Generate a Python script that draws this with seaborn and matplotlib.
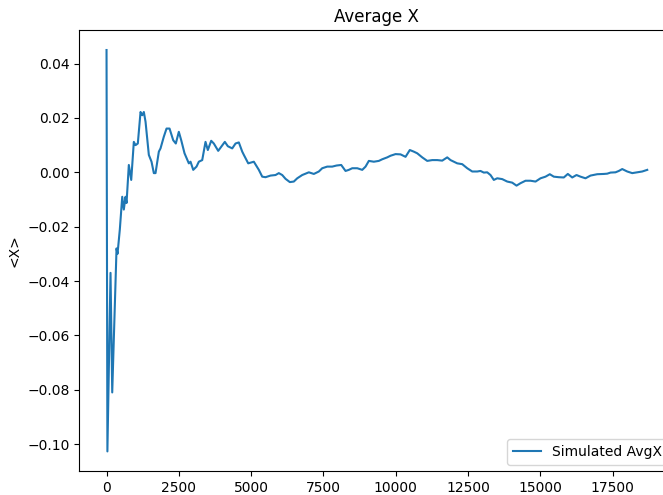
import matplotlib
matplotlib.use("Agg")
import matplotlib.pyplot as plt
import seaborn as sns
import pandas as pd

steps = [0, 30, 138, 197, 346, 380, 460, 543, 598, 657, 692, 771, 854, 944, 1003,
         1082, 1176, 1235, 1290, 1349, 1463, 1556, 1636, 1694, 1809, 1867, 1981,
         2075, 2179, 2306, 2396, 2500, 2583, 2697, 2846, 2905, 2998, 3112, 3192,
         3309, 3423, 3503, 3620, 3710, 3862, 3966, 4091, 4195, 4347, 4461, 4575,
         4693, 4749, 4900, 5094, 5267, 5384, 5498, 5671, 5844, 5958, 6076, 6190,
         6339, 6477, 6595, 6767, 6996, 7169, 7342, 7459, 7632, 7805, 7954, 8116,
         8265, 8379, 8497, 8670, 8843, 8957, 9071, 9244, 9417, 9534, 9707, 9821,
         9994, 10167, 10340, 10488, 10627, 10744, 10917, 11090, 11263, 11436,
         11609, 11782, 11895, 12127, 12300, 12473, 12646, 12819, 12932, 13047,
         13164, 13278, 13393, 13510, 13683, 13856, 14029, 14178, 14316, 14489,
         14662, 14835, 15008, 15180, 15329, 15467, 15640, 15813, 15952, 16104,
         16252, 16391, 16563, 16736, 16968, 17196, 17314, 17428, 17601, 17715,
         17833, 18006, 18179, 18352, 18525, 18698]

avg_x = [0.045, -0.1027, -0.037, -0.081, -0.028, -0.030, -0.021, -0.009, -0.0137,
         -0.009, -0.0113, 0.0027, -0.0028, 0.0112, 0.0100, 0.0106, 0.0222, 0.0210,
         0.0222, 0.0186, 0.0064, 0.0039, -0.0003, -0.0003, 0.0076, 0.0088, 0.0131,
         0.0161, 0.0161, 0.0118, 0.0106, 0.0149, 0.0118, 0.0070, 0.0033, 0.0039,
         0.0009, 0.0021, 0.0039, 0.0045, 0.0112, 0.0082, 0.0116, 0.0106, 0.0079,
         0.0094, 0.0112, 0.0096, 0.0088, 0.0106, 0.0110, 0.0076, 0.0064, 0.0033,
         0.0039, 0.0009, -0.0016, -0.0018, -0.0012, -0.0010, -0.0003, -0.0010,
         -0.0024, -0.0036, -0.0034, -0.0022, -0.0010, 0.0000, -0.0006, 0.0003,
         0.0015, 0.0021, 0.0021, 0.0025, 0.0027, 0.0005, 0.0009, 0.0015, 0.0015,
         0.0009, 0.0021, 0.0042, 0.0039, 0.0042, 0.0048, 0.0055, 0.0061, 0.0067,
         0.0066, 0.0057, 0.0082, 0.0076, 0.0070, 0.0055, 0.0042, 0.0045, 0.0045,
         0.0043, 0.0055, 0.0045, 0.0033, 0.0030, 0.0015, 0.0003, 0.0003, 0.0005,
         -0.0001, 0.0000, -0.0010, -0.0028, -0.0022, -0.0025, -0.0034, -0.0038,
         -0.0049, -0.0040, -0.0031, -0.0031, -0.0034, -0.0022, -0.0016, -0.0007,
         -0.0016, -0.0018, -0.0019, -0.0006, -0.0019, -0.0010, -0.0016, -0.0022,
         -0.0012, -0.0007, -0.0006, -0.0005, -0.0001, 0.0000, 0.0005, 0.0012,
         0.0003, -0.0003, 0.0000, 0.0003, 0.0009]

title = "Average X"
y_label = "<X>"
series_label = "Simulated AvgX"

df = pd.DataFrame({"step": steps, "avg": avg_x})

fig = plt.figure(figsize=(6.63, 4.95), dpi=100)
ax = fig.add_axes([0.1199, 0.0475, 0.8971, 0.892])
sns.lineplot(data=df, x="step", y="avg", ax=ax, label=series_label,
             color="#1f77b4", linewidth=1.5)
ax.set_title(title)
ax.set_ylabel(y_label)
ax.set_xlabel("")
ax.set_xticks([0, 2500, 5000, 7500, 10000, 12500, 15000, 17500])
ax.legend(loc="lower right")
fig.savefig("out.png", dpi=100)
